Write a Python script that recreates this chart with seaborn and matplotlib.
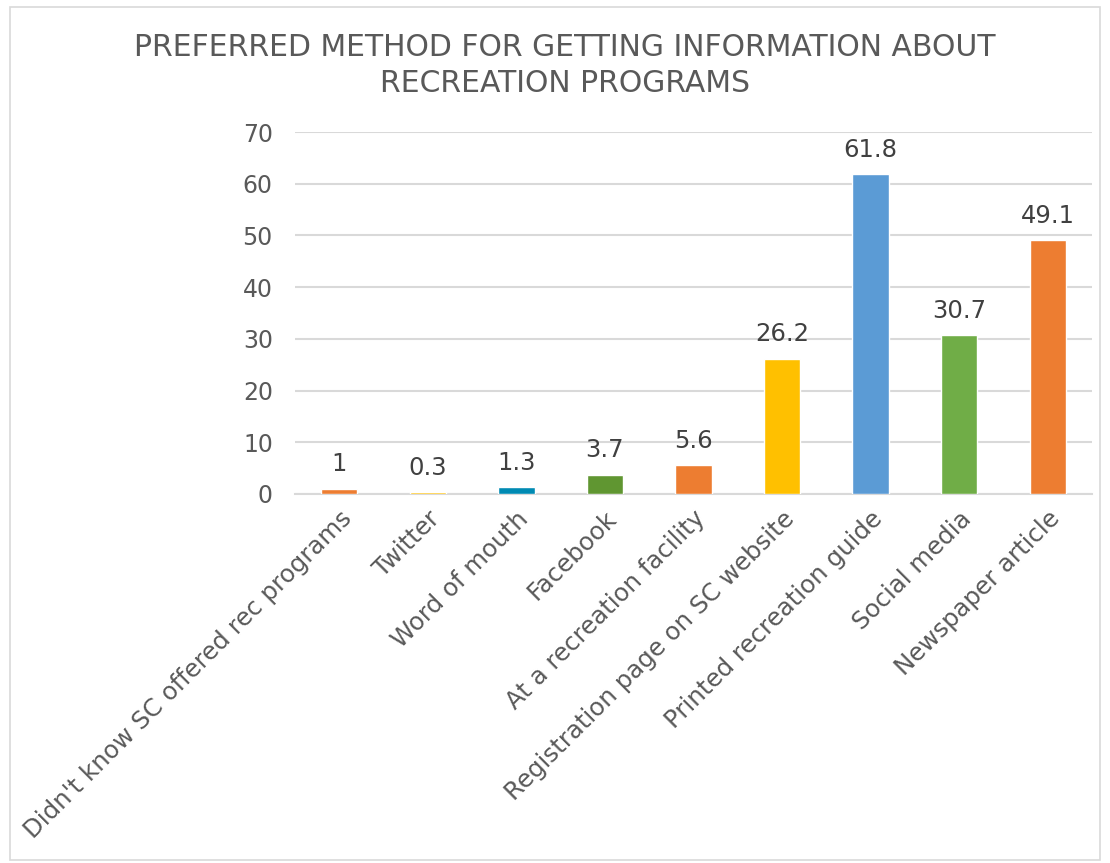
import matplotlib
matplotlib.use('Agg')
import matplotlib.pyplot as plt
import seaborn as sns
import pandas as pd

# Survey results (percent of respondents)
categories = ["Didn't know SC offered rec programs", 'Twitter', 'Word of mouth',
              'Facebook', 'At a recreation facility', 'Registration page on SC website',
              'Printed recreation guide', 'Social media', 'Newspaper article']
values = [1, 0.3, 1.3, 3.7, 5.6, 26.2, 61.8, 30.7, 49.1]
value_labels = ['1', '0.3', '1.3', '3.7', '5.6', '26.2', '61.8', '30.7', '49.1']
bar_colors = ['#ED7D31', '#FFC000', '#008AB3', '#609631', '#ED7D31',
              '#FFC000', '#5B9BD5', '#70AD47', '#ED7D31']
y_ticks = [0, 10, 20, 30, 40, 50, 60, 70]

df = pd.DataFrame({'Method': categories, 'Percent': values})

sns.set_style('white')
plt.rcParams['font.family'] = ['DejaVu Sans']

fig = plt.figure(figsize=(11.1, 8.63), dpi=100)
ax = fig.add_axes([0.2658, 0.4276, 0.718, 0.4194])

sns.barplot(data=df, x='Method', y='Percent', hue='Method', palette=bar_colors,
            legend=False, width=0.41, saturation=1, ax=ax, zorder=3)

ax.set_ylim(0, 70)
ax.set_xlim(-0.5, len(categories) - 0.5)
ax.set_yticks(y_ticks)
ax.set_yticklabels([str(t) for t in y_ticks])
ax.yaxis.grid(True, color='#D9D9D9', linewidth=1.5, zorder=0)
ax.set_axisbelow(True)
for s in ['top', 'right', 'left']:
    ax.spines[s].set_visible(False)
ax.spines['bottom'].set_color('#D9D9D9')
ax.spines['bottom'].set_linewidth(1.5)
ax.tick_params(axis='y', length=0, labelsize=17, colors='#595959', pad=16)
ax.tick_params(axis='x', length=0, labelsize=17.6, colors='#595959', pad=9)
ax.set_xticks(range(len(categories)))
ax.set_xticklabels(categories, rotation=45, ha='right', rotation_mode='anchor')
ax.set_xlabel('')
ax.set_ylabel('')

for i, (v, lab) in enumerate(zip(values, value_labels)):
    ax.annotate(lab, (i, v), xytext=(0, 9), textcoords='offset points',
                ha='center', va='bottom', fontsize=17.5, color='#404040')

fig.text(0.509, 0.924, 'PREFERRED METHOD FOR GETTING INFORMATION ABOUT\nRECREATION PROGRAMS',
         ha='center', va='center', fontsize=21.5, color='#595959', linespacing=1.32)

# light frame around the chart area
fig.patches.append(plt.Rectangle((0.009, 0.004), 0.982, 0.988, transform=fig.transFigure,
                                 fill=False, edgecolor='#D9D9D9', linewidth=1.2))

fig.savefig('out.png', dpi=100)
